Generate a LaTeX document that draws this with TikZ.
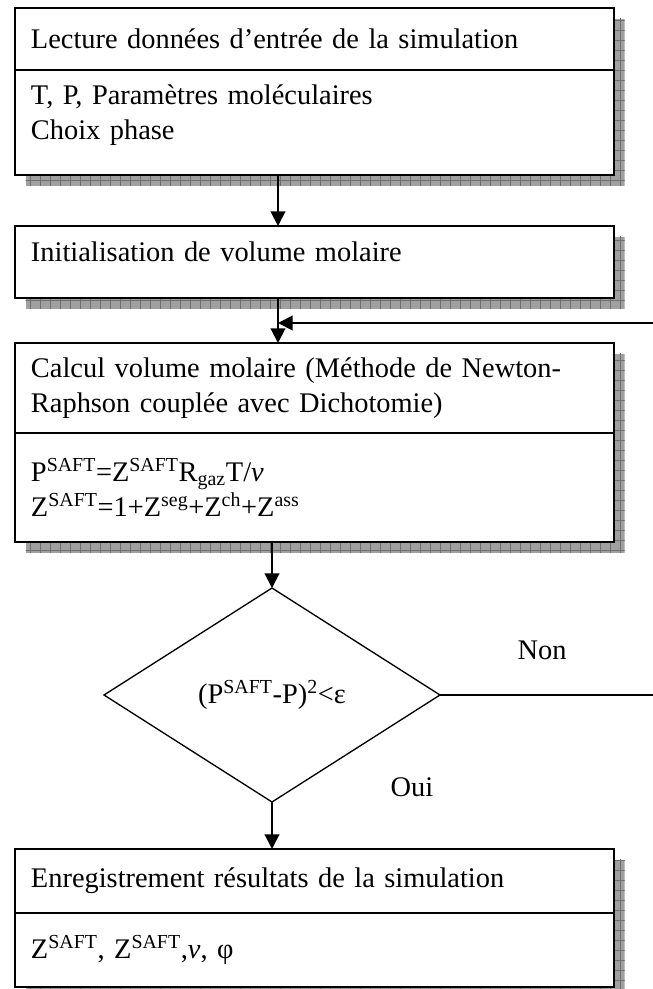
\documentclass[tikz,border=0pt]{standalone}
\usepackage{fontspec}
\setmainfont{Liberation Serif}
\usetikzlibrary{positioning,arrows.meta,shapes.geometric,backgrounds}
\definecolor{shadowc}{HTML}{A0A0A0}
\definecolor{gridc}{HTML}{6E6E6E}
\tikzset{
  box/.style={draw, line width=1.5pt, fill=white, outer sep=0pt, inner xsep=12pt,
              text width=425.25pt, align=left, font=\fontsize{21.3pt}{26pt}\selectfont},
  decision/.style={diamond, draw, line width=1pt, outer sep=0pt, inner sep=0pt,
              minimum width=252pt, minimum height=160.5pt, font=\fontsize{21.3pt}{26pt}\selectfont},
  arr/.style={-{Triangle[length=11pt, width=11pt]}, line width=1.5pt},
  lbl/.style={font=\fontsize{21.3pt}{26pt}\selectfont, inner sep=0pt},
  shgrid/.style={draw=gridc, line width=0.4pt},
}

\begin{document}
\begin{tikzpicture}
  \useasboundingbox (0,0) rectangle (489.75pt,-741.75pt);

  \node[box, anchor=north west, minimum height=46.5pt] (lect) at (11.25pt,-6pt)
    {Lecture données d’entrée de la simulation};
  \node[box, below=0pt of lect, minimum height=78.75pt, text depth=42pt] (lectb)
    {T, P, Paramètres moléculaires\\Choix phase};
  \node[box, below=38.25pt of lectb, minimum height=54pt, text depth=15pt] (init)
    {Initialisation de volume molaire};
  \node[box, below=33.75pt of init, minimum height=67.5pt] (calc)
    {Calcul volume molaire (Méthode de Newton-\\Raphson couplée avec Dichotomie)};
  \node[box, below=0pt of calc, minimum height=81.75pt] (calcb)
    {P\textsuperscript{SAFT}=Z\textsuperscript{SAFT}R\textsubscript{gaz}T/\textit{v}\\
     Z\textsuperscript{SAFT}=1+Z\textsuperscript{seg}+Z\textsuperscript{ch}+Z\textsuperscript{ass}};
  \node[decision, below=34.5pt of calcb, xshift=-31.875pt] (test)
    {(P\textsuperscript{SAFT}-P)\textsuperscript{2}<ε};
  \node[box, below=35.25pt of test, xshift=31.875pt, minimum height=48pt] (enreg)
    {Enregistrement résultats de la simulation};
  \node[box, below=0pt of enreg, minimum height=55.5pt] (enregb)
    {Z\textsuperscript{SAFT}, Z\textsuperscript{SAFT},\textit{v}, φ};

  \node[lbl] (non) at ([xshift=76.5pt, yshift=33.75pt]test.east) {Non};
  \node[lbl] (oui) at ([xshift=105pt, yshift=11.25pt]test.south) {Oui};

  % drop shadows with grid
  \begin{scope}[on background layer]
    \foreach \a/\b in {lect/lectb, init/init, calc/calcb, enreg/enregb} {
      \begin{scope}
        \clip ([shift={(8pt,-8pt)}]\a.north west) rectangle ([shift={(8pt,-8pt)}]\b.south east);
        \fill[shadowc] ([shift={(8pt,-8pt)}]\a.north west) rectangle ([shift={(8pt,-8pt)}]\b.south east);
        \draw[shgrid, step=7.5pt] (0,0) grid (489.75pt,-741.75pt);
      \end{scope}
    }
  \end{scope}

  \coordinate (back) at ([xshift=-27.375pt, yshift=-18.75pt]init.south);

  \draw[arr] ([xshift=-27.375pt]lectb.south) -- ([xshift=-27.375pt]init.north);
  \draw[arr] ([xshift=-27.375pt]init.south) -- ([xshift=-27.375pt]calc.north);
  \draw[arr] (calcb.south -| test.north) -- (test.north);
  \draw[arr] (test.south) -- (enreg.north -| test.south);
  \draw[arr] (test.east) -- ++(164pt,0) |- (back);
\end{tikzpicture}
\end{document}
